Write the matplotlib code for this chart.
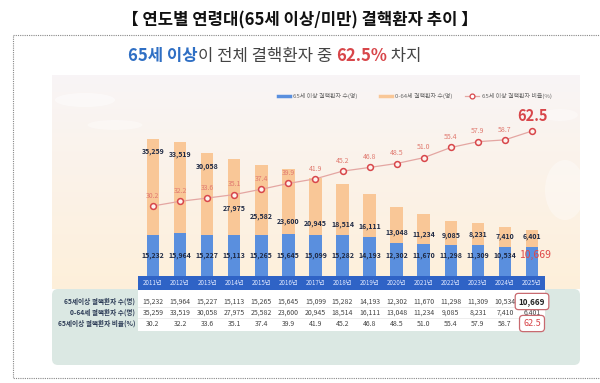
import numpy as np
import matplotlib
matplotlib.use("Agg")
import matplotlib.pyplot as plt
import matplotlib.patches as mpatches
import matplotlib.transforms as mtransforms

plt.rcParams['font.family'] = ['Noto Sans CJK KR', 'DejaVu Sans']

# data
years = ["2011", "2012", "2013", "2014", "2015", "2016", "2017", "2018",
         "2019", "2020", "2021", "2022", "2023", "2024", "2025"]
senior = [15232, 15964, 15227, 15113, 15265, 15645, 15099, 15282,
          14193, 12302, 11670, 11298, 11309, 10534, 10669]
younger = [35259, 33519, 30058, 27975, 25582, 23600, 20945, 18514,
           16111, 13048, 11234, 9085, 8231, 7410, 6401]
ratio = [30.2, 32.2, 33.6, 35.1, 37.4, 39.9, 41.9, 45.2,
         46.8, 48.5, 51.0, 55.4, 57.9, 58.7, 62.5]
row_labels = ["65세이상 결핵환자 수(명)", "0-64세 결핵환자 수(명)", "65세이상 결핵환자 비율(%)"]
legend_labels = ["65세 이상 결핵환자 수(명)", "0-64세 결핵환자 수(명)", "65세 이상 결핵환자 비율(%)"]

# styling
BLUE = "#5a8fde"
ORANGE = "#f9c797"
LINE = "#e4a6a2"
RED = "#d8464a"
HEAD = "#2f63c6"
W, H = 600, 383

fig = plt.figure(figsize=(6.0, 3.83), dpi=100)
fig.patch.set_facecolor("white")

# background axes in pixel coordinates
bg = fig.add_axes([0, 0, 1, 1])
bg.set_xlim(0, W)
bg.set_ylim(H, 0)
bg.axis("off")

# dotted outer frame
bg.add_patch(mpatches.Rectangle((13, 35), 600, 343, fill=False,
                                edgecolor="#888888", linewidth=0.8,
                                linestyle=(0, (1, 1))))

# panel: warm gradient top, teal bottom
grad = np.linspace(0, 1, 100)[:, None]
c_top = np.array([0.975, 0.96, 0.965])
c_bot = np.array([0.995, 0.94, 0.855])
img = c_top[None, None, :] * (1 - grad[..., None]) + c_bot[None, None, :] * grad[..., None]
img = np.repeat(img, 2, axis=1)
bg.imshow(img, extent=(52, 580, 289, 75), aspect="auto", zorder=1)
bg.add_patch(mpatches.FancyBboxPatch((52, 289), 528, 76,
                                     boxstyle="round,pad=0,rounding_size=6",
                                     facecolor="#dbe8e3", edgecolor="none", zorder=1))
# soft clouds
for (cx, cy, w, h, a) in [(85, 100, 60, 14, 0.45), (115, 125, 55, 10, 0.35),
                          (565, 190, 40, 60, 0.35), (560, 115, 36, 12, 0.35)]:
    bg.add_patch(mpatches.Ellipse((cx, cy), w, h, facecolor="white",
                                  edgecolor="none", alpha=a, zorder=1.5))

# title
bg.text(W / 2, 20, "【 연도별 연령대(65세 이상/미만) 결핵환자 추이 】",
        ha="center", va="center", fontsize=12, fontweight="bold",
        color="#111111", zorder=3)

# subtitle with mixed colours
pieces = [("65세 이상", "#2f6fc4", "bold"), ("이 전체 결핵환자 중 ", "#444444", "normal"),
          ("62.5%", RED, "bold"), (" 차지", "#444444", "normal")]
renderer = fig.canvas.get_renderer()
texts = []
for s, c, wt in pieces:
    t = bg.text(0, 56, s, ha="left", va="center", fontsize=12,
                color=c, fontweight=wt, zorder=3)
    texts.append(t)
widths = [t.get_window_extent(renderer).width for t in texts]
x0 = 275 - sum(widths) / 2
for t, w in zip(texts, widths):
    t.set_x(x0)
    x0 += w

# chart axes
px_left, px_right, px_top, px_bot = 138, 545, 80, 276
ax = fig.add_axes([px_left / W, 1 - px_bot / H,
                   (px_right - px_left) / W, (px_bot - px_top) / H])
ax.set_zorder(3)
ax.patch.set_visible(False)
x = np.arange(len(years))
senior_a = np.array(senior)
younger_a = np.array(younger)
ax.bar(x, senior_a, width=0.46, color=BLUE, zorder=2)
ax.bar(x, younger_a, width=0.46, bottom=senior_a, color=ORANGE, zorder=2)
ax.set_xlim(-0.554, 14.48)
ax.set_ylim(0, 72200)
ax.axis("off")

# labels for the 65+ counts
for i, v in enumerate(senior):
    if i == len(years) - 1:
        ax.text(x[i] + 0.1, 7700, f"{v:,}", ha="center", va="center",
                fontsize=7.5, color="#e04848", zorder=5)
    else:
        ax.text(x[i], 7700, f"{v:,}", ha="center", va="center",
                fontsize=5, fontweight="bold", color="#1f2a44", zorder=5)

# labels for 0-64 counts
gap = [None, None, None, 9600, 6500, 4600, 4400, 3600, 4200, 3900, 3800,
       3800, 3800, 3850, 3700]
for i, v in enumerate(younger):
    if gap[i] is None:
        yy = senior[i] + v - 4800
    else:
        yy = senior[i] + gap[i]
    ax.text(x[i], yy, f"{v:,}", ha="center", va="center",
            fontsize=5, fontweight="bold", color="#1f2a44", zorder=5)

# ratio line
ax2 = ax.twinx()
ax2.set_zorder(4)
ax2.patch.set_visible(False)
ax2.plot(x, ratio, color=LINE, linewidth=0.9, zorder=3)
ax2.plot(x, ratio, linestyle="none", marker="o", markersize=4.2,
         markerfacecolor="#fdf3ee", markeredgecolor=RED,
         markeredgewidth=1.1, zorder=4)
ax2.set_ylim(0, 84.5)
ax2.set_xlim(-0.554, 14.48)
ax2.axis("off")
for i, r in enumerate(ratio):
    if i == len(ratio) - 1:
        ax2.annotate(f"{r:.1f}", (x[i], r), xytext=(0, 5), textcoords="offset points",
                     ha="center", va="bottom", fontsize=10.5, fontweight="bold",
                     color=RED)
    else:
        ax2.annotate(f"{r:.1f}", (x[i], r), xytext=(0, 4.5), textcoords="offset points",
                     ha="center", va="bottom", fontsize=5, color="#e07a70")

# legend (drawn in pixel coords)
ly = 96
bg.plot([278, 290], [ly, ly], color=BLUE, linewidth=2.5, zorder=3)
bg.text(293, ly, legend_labels[0], fontsize=4.3, color="#666666", va="center", zorder=3)
bg.plot([380, 392], [ly, ly], color=ORANGE, linewidth=2.5, zorder=3)
bg.text(395, ly, legend_labels[1], fontsize=4.3, color="#666666", va="center", zorder=3)
bg.plot([465, 479], [ly, ly], color=LINE, linewidth=0.9, zorder=3)
bg.plot([472], [ly], marker="o", markersize=3.5, markerfacecolor="white",
        markeredgecolor=RED, markeredgewidth=0.9, zorder=4)
bg.text(482, ly, legend_labels[2], fontsize=4.3, color="#666666", va="center", zorder=3)

# table
tr = mtransforms.blended_transform_factory(ax.transData, bg.transData)
bg.add_patch(mpatches.Rectangle((px_left, 276), px_right - px_left, 14,
                                facecolor=HEAD, edgecolor="none", zorder=4))
bg.add_patch(mpatches.Rectangle((px_left, 290), px_right - px_left, 41,
                                facecolor="white", edgecolor="none", zorder=4))
for yy in [307, 318]:
    bg.plot([px_left, px_right], [yy, yy], color="#e6e6e6", linewidth=0.5, zorder=4.5)
for i, yr in enumerate(years):
    bg.text(x[i], 283, yr + "년", transform=tr, ha="center", va="center",
            fontsize=4.5, color="#dfe8ff", style="italic", zorder=5)
row_y = [301.5, 312.5, 323.5]
rows = [[f"{v:,}" for v in senior], [f"{v:,}" for v in younger],
        [f"{v:.1f}" for v in ratio]]
for r, (yy, vals) in enumerate(zip(row_y, rows)):
    bg.text(135, yy, row_labels[r], ha="right", va="center", fontsize=4.8,
            fontweight="bold", color="#2b3a55", zorder=5)
    for i, s in enumerate(vals):
        last = i == len(vals) - 1
        if last and r == 0:
            bg.text(x[i], yy, s, transform=tr, ha="center", va="center",
                    fontsize=5.8, fontweight="bold", color="#222222", zorder=6,
                    bbox=dict(boxstyle="round,pad=0.45,rounding_size=0.4",
                              facecolor="white", edgecolor="#c86a70", linewidth=0.9))
        elif last and r == 2:
            bg.text(x[i], yy, s, transform=tr, ha="center", va="center",
                    fontsize=6.5, color=RED, zorder=6,
                    bbox=dict(boxstyle="round,pad=0.4,rounding_size=0.4",
                              facecolor="white", edgecolor="#c86a70", linewidth=0.9))
        else:
            bg.text(x[i], yy, s, transform=tr, ha="center", va="center",
                    fontsize=5, color="#444444", zorder=5)

fig.savefig("out.png", dpi=100)
